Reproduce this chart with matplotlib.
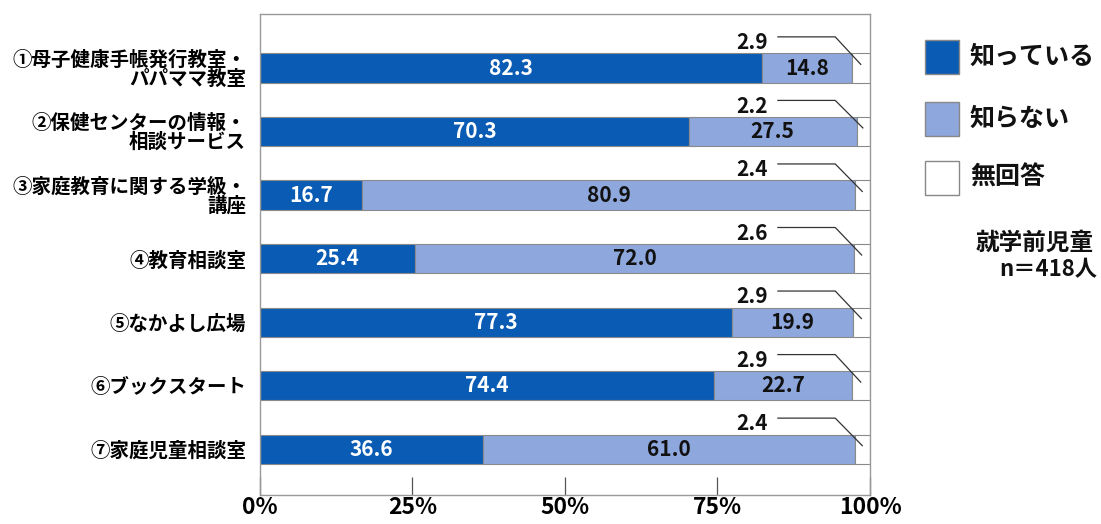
import matplotlib
matplotlib.use("Agg")
import matplotlib.pyplot as plt
from matplotlib.patches import Rectangle

plt.rcParams['font.family'] = ['Noto Sans CJK JP', 'DejaVu Sans']

categories = ["①母子健康手帳発行教室・\nパパママ教室",
              "②保健センターの情報・\n相談サービス",
              "③家庭教育に関する学級・\n講座",
              "④教育相談室",
              "⑤なかよし広場",
              "⑥ブックスタート",
              "⑦家庭児童相談室"]
know = [82.3, 70.3, 16.7, 25.4, 77.3, 74.4, 36.6]
dont_know = [14.8, 27.5, 80.9, 72.0, 19.9, 22.7, 61.0]
no_answer = [2.9, 2.2, 2.4, 2.6, 2.9, 2.9, 2.4]
series_names = ["知っている", "知らない", "無回答"]
tick_vals = [0, 25, 50, 75, 100]
tick_labels = ["0%", "25%", "50%", "75%", "100%"]

c_dark = "#0a5bb4"
c_light = "#8ea7dc"
c_white = "#ffffff"
edge = "#8a8a8a"

fig = plt.figure(figsize=(11.01, 5.24), dpi=100)
ax = fig.add_axes([0.2361, 0.0553, 0.5541, 0.918])

ys = list(range(len(categories)))
h = 0.46
ax.barh(ys, know, height=h, color=c_dark, edgecolor=edge, linewidth=0.8)
ax.barh(ys, dont_know, left=know, height=h, color=c_light, edgecolor=edge, linewidth=0.8)
lefts3 = [a + b for a, b in zip(know, dont_know)]
ax.barh(ys, no_answer, left=lefts3, height=h, color=c_white, edgecolor=edge, linewidth=0.8)

ax.set_xlim(0, 100)
ax.set_ylim(6.72, -0.85)

for i in ys:
    ax.text(know[i] / 2, i, f"{know[i]:.1f}", ha="center", va="center",
            color="white", fontsize=15, fontweight="bold")
    ax.text(know[i] + dont_know[i] / 2, i, f"{dont_know[i]:.1f}", ha="center", va="center",
            color="#111111", fontsize=15, fontweight="bold")
    ax.text(80.6, i - 0.40, f"{no_answer[i]:.1f}", ha="center", va="center",
            color="#111111", fontsize=15, fontweight="bold")
    end_x = lefts3[i] + no_answer[i] / 2
    ax.plot([84.8, 94.3, end_x], [i - 0.49, i - 0.49, i - 0.05],
            color="#333333", linewidth=0.9, solid_capstyle="butt")

ax.set_yticks(ys)
ax.set_yticklabels(categories, fontsize=14, fontweight="bold", linespacing=0.95)
ax.tick_params(axis="y", length=0, pad=10)
ax.set_xticks(tick_vals)
ax.set_xticklabels(tick_labels, fontsize=16.5, fontweight="bold")
ax.tick_params(axis="x", direction="in", length=13, width=0.9, color="#555555", pad=1)
for s in ax.spines.values():
    s.set_color("#999999")
    s.set_linewidth(1.0)

# legend
cols = [c_dark, c_light, c_white]
leg_y = [57, 119, 178]
for name, col, yp in zip(series_names, cols, leg_y):
    x0, sz = 925 / 1101, 34
    fig.patches.append(Rectangle((x0, 1 - (yp + sz / 2) / 524), sz / 1101, sz / 524,
                                 transform=fig.transFigure, facecolor=col,
                                 edgecolor="#888888", linewidth=1.0))
    fig.text(970 / 1101, 1 - yp / 524, name, fontsize=18, fontweight="bold",
             ha="left", va="center", color="#111111")
fig.text(1035 / 1101, 1 - 243 / 524, "就学前児童", fontsize=17, fontweight="bold",
         ha="center", va="center", color="#111111")
fig.text(1097 / 1101, 1 - 270 / 524, "n＝418人", fontsize=16, fontweight="bold",
         ha="right", va="center", color="#111111")

fig.savefig("out.png", dpi=100)
